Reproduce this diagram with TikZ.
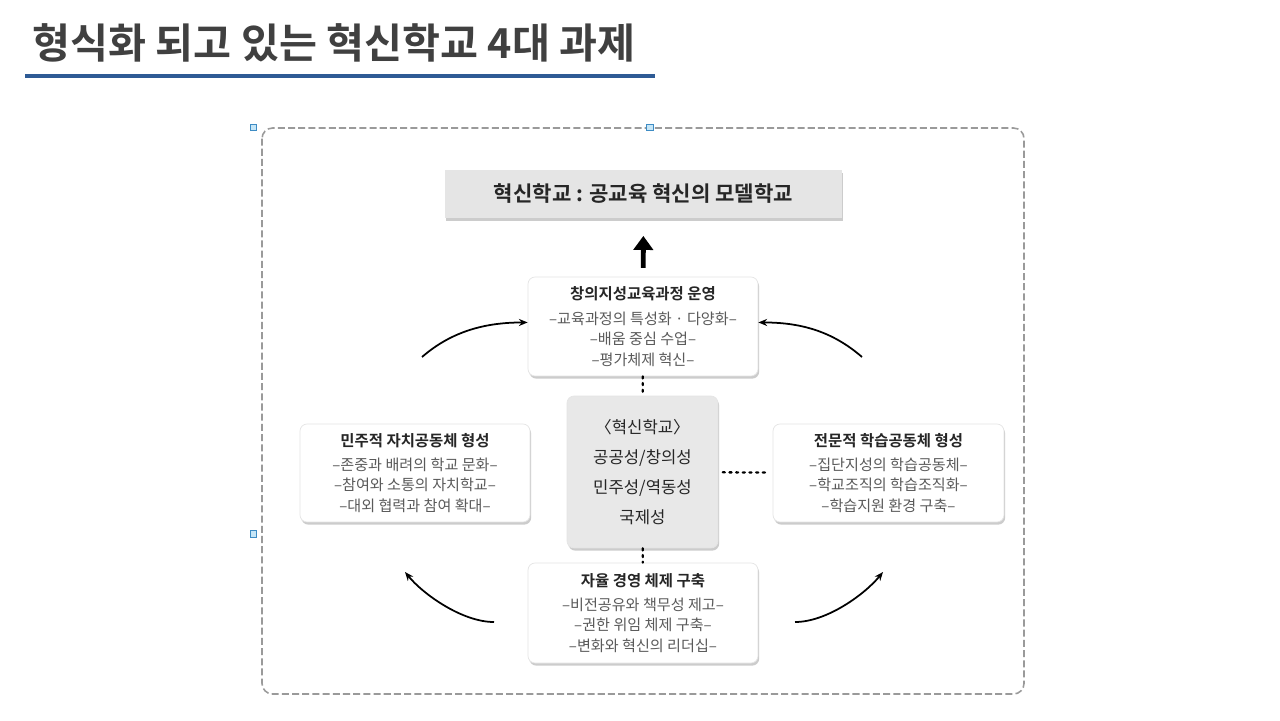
\documentclass[tikz,border=0pt]{standalone}
\usepackage{fontspec}
\setmainfont{Noto Sans CJK KR}[BoldFont={Noto Sans CJK KR Bold}]
\usetikzlibrary{arrows.meta,shadows}
\definecolor{rulecol}{HTML}{2E5B95}
\definecolor{ttlcol}{HTML}{404040}
\definecolor{bodycol}{HTML}{5A5A5A}
\definecolor{headcol}{HTML}{262626}
\definecolor{framecol}{HTML}{9A9A9A}
\definecolor{handlefill}{HTML}{C6E6F7}
\definecolor{handledraw}{HTML}{3E8CC4}
\newcommand{\boxfont}{\fontsize{8.6}{11.6}\selectfont}
\newcommand{\headfont}{\fontsize{8.8}{11.6}\selectfont\bfseries\color{headcol}}

\begin{document}
\begin{tikzpicture}[x=0.02cm,y=-0.02cm,
		card/.style={fill=white,draw=black!10,rounded corners=4pt,inner sep=0pt,align=center,
			font=\boxfont,text=bodycol,
			drop shadow={shadow xshift=.7pt,shadow yshift=-1.5pt,opacity=.4}},
		handle/.style={draw=handledraw,fill=handlefill,line width=.4pt,minimum size=0.13cm,inner sep=0pt},
		dots/.style={line width=1.3pt,dash pattern=on 1.2pt off 2.6pt,line cap=round},
		curvearrow/.style={line width=1pt,-{Stealth[length=5pt,width=4pt]}}]
	\fill[white] (0,0) rectangle (1280,720);
	\useasboundingbox (0,0) rectangle (1280,720);
	% title and rule
	\node[anchor=west,inner sep=0pt,text=ttlcol,font=\fontsize{23.5}{27}\selectfont\bfseries] (title) at (32,43) {형식화 되고 있는 혁신학교 4대 과제};
	\draw[rulecol,line width=2.3pt] (25,76) -- (655,76);
	% frame
	\draw[framecol,line width=.9pt,dash pattern=on 4pt off 1.8pt,rounded corners=6pt] (262,128) rectangle (1024,694);
	\node[handle] (h1) at (253.5,127.5) {};
	\node[handle] (h2) at (650,127.5) {};
	\node[handle] (h3) at (253.5,534) {};
	% boxes
	\node[fill=black!10,inner sep=0pt,minimum width=7.94cm,minimum height=0.96cm,
		drop shadow={shadow xshift=.8pt,shadow yshift=-1.6pt,opacity=.4},
		font=\fontsize{12}{14}\selectfont\bfseries,text=headcol] (model) at (643.5,194) {혁신학교 : 공교육 혁신의 모델학교};
	\node[card,minimum width=4.6cm,minimum height=1.98cm] (curri) at (643,326.5)
		{{\headfont 창의지성교육과정 운영}\\[2.6pt]
		–교육과정의 특성화 · 다양화–\\–배움 중심 수업–\\–평가체제 혁신–};
	\node[card,fill=black!9,minimum width=3.02cm,minimum height=3.04cm,
		font=\fontsize{9.5}{17}\selectfont,text=headcol] (core) at (642.5,472)
		{〈혁신학교〉\\공공성/창의성\\민주성/역동성\\국제성};
	\node[card,minimum width=4.6cm,minimum height=1.96cm] (selfgov) at (415,473)
		{{\headfont 민주적 자치공동체 형성}\\[2pt]
		–존중과 배려의 학교 문화–\\–참여와 소통의 자치학교–\\–대외 협력과 참여 확대–};
	\node[card,minimum width=4.62cm,minimum height=1.96cm] (learn) at (888.5,473)
		{{\headfont 전문적 학습공동체 형성}\\[2pt]
		–집단지성의 학습공동체–\\–학교조직의 학습조직화–\\–학습지원 환경 구축–};
	\node[card,minimum width=4.6cm,minimum height=2cm] (manage) at (643,613)
		{{\headfont 자율 경영 체제 구축}\\[2pt]
		–비전공유와 책무성 제고–\\–권한 위임 체제 구축–\\–변화와 혁신의 리더십–};
	% connectors
	\draw[line width=2.8pt,-{Triangle[width=11pt,length=8pt]},shorten <=5pt,shorten >=10pt] (curri) -- (model);
	\draw[dots] (curri) -- (core);
	\draw[dots] (core) -- (manage);
	\draw[dots,shorten <=2.5pt,shorten >=2.5pt] (core) -- (learn);
	\coordinate (tlA) at (422,357);
	\coordinate (trA) at (862,357);
	\coordinate (blA) at (494,622);
	\coordinate (blB) at (405,572);
	\coordinate (brA) at (795,622);
	\coordinate (brB) at (883,572);
	\draw[curvearrow] (tlA) .. controls +(30,-26) and +(-42,0) .. ([yshift=2.3pt]curri.west);
	\draw[curvearrow] (trA) .. controls +(-30,-26) and +(42,0) .. ([yshift=2.3pt]curri.east);
	\draw[curvearrow] (blA) .. controls +(-32,0) and +(18,22) .. (blB);
	\draw[curvearrow] (brA) .. controls +(32,0) and +(-18,22) .. (brB);
\end{tikzpicture}
\end{document}
